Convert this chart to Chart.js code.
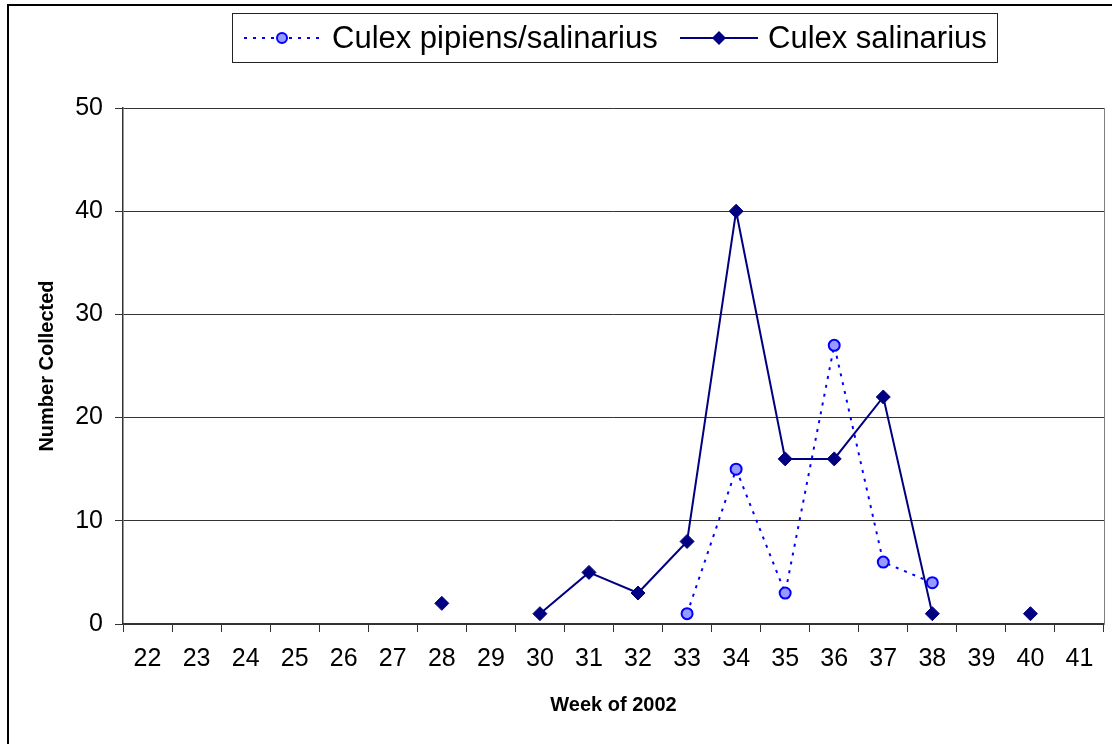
<!DOCTYPE html>
<html>
<head>
<meta charset="utf-8">
<script src="https://cdn.jsdelivr.net/npm/chart.js@4/dist/chart.umd.min.js"></script>
<style>
  body { margin: 0; background: #fff; }
  #wrap { width: 1112px; height: 744px; }
</style>
</head>
<body>
<div id="wrap"><canvas id="chart" width="1112" height="744"></canvas></div>
<script>
const weeks = ['22', '23', '24', '25', '26', '27', '28', '29', '30', '31',
               '32', '33', '34', '35', '36', '37', '38', '39', '40', '41'];

// Culex pipiens/salinarius (weeks 33-38 only)
const pipiensCounts = [null, null, null, null, null, null, null, null, null, null,
                       null, 1, 15, 3, 27, 6, 4, null, null, null];

// Culex salinarius (gaps at 29 and 39)
const salinariusCounts = [null, null, null, null, null, null, 2, null, 1, 5,
                          3, 8, 40, 16, 16, 22, 1, null, 1, null];

const yTicks = [0, 10, 20, 30, 40, 50];
const seriesNames = ['Culex pipiens/salinarius', 'Culex salinarius'];

const FONT = '"Liberation Sans", Arial, sans-serif';
const NAVY = '#000080';
const BLUE = '#0000FF';
const LIGHT = '#9999FF';

function drawDiamond(ctx, x, y, r) {
    ctx.beginPath();
    ctx.moveTo(x, y - r);
    ctx.lineTo(x + r, y);
    ctx.lineTo(x, y + r);
    ctx.lineTo(x - r, y);
    ctx.closePath();
    ctx.fillStyle = NAVY;
    ctx.fill();
}

function drawCircle(ctx, x, y, r) {
    ctx.beginPath();
    ctx.arc(x, y, r, 0, Math.PI * 2);
    ctx.fillStyle = LIGHT;
    ctx.fill();
    ctx.lineWidth = 2;
    ctx.strokeStyle = BLUE;
    ctx.setLineDash([]);
    ctx.stroke();
}

// frame, plot-area border and the boxed legend
const decorations = {
    id: 'decorations',
    beforeDatasetsDraw(chart) {
        const { ctx, chartArea } = chart;
        ctx.save();
        ctx.strokeStyle = '#808080';
        ctx.lineWidth = 1;
        ctx.beginPath();
        ctx.moveTo(Math.round(chartArea.right) + 0.5, chartArea.top);
        ctx.lineTo(Math.round(chartArea.right) + 0.5, chartArea.bottom);
        ctx.stroke();
        ctx.restore();
    },
    afterDraw(chart) {
        const ctx = chart.ctx;
        ctx.save();
        // outer frame
        ctx.strokeStyle = '#000';
        ctx.lineWidth = 2;
        ctx.strokeRect(8, 5, 1300, 1000);

        // legend box
        ctx.lineWidth = 1;
        ctx.strokeStyle = '#222';
        ctx.strokeRect(232.5, 13.5, 765, 49);

        const ly = 38;
        // dotted series sample
        ctx.strokeStyle = BLUE;
        ctx.lineWidth = 2;
        ctx.setLineDash([3, 6]);
        ctx.beginPath();
        ctx.moveTo(244, ly);
        ctx.lineTo(320, ly);
        ctx.stroke();
        drawCircle(ctx, 282, ly, 5);

        // solid series sample
        ctx.setLineDash([]);
        ctx.strokeStyle = NAVY;
        ctx.lineWidth = 2;
        ctx.beginPath();
        ctx.moveTo(680, ly);
        ctx.lineTo(758, ly);
        ctx.stroke();
        drawDiamond(ctx, 719, ly, 7);

        ctx.fillStyle = '#000';
        ctx.font = '31px ' + FONT;
        ctx.textBaseline = 'middle';
        ctx.textAlign = 'left';
        ctx.fillText(seriesNames[0], 332, ly + 1);
        ctx.fillText(seriesNames[1], 768, ly + 1);
        ctx.restore();
    }
};

new Chart(document.getElementById('chart'), {
    type: 'line',
    data: {
        labels: weeks,
        datasets: [
            {
                label: seriesNames[0],
                data: pipiensCounts,
                borderColor: BLUE,
                borderWidth: 2,
                borderDash: [3, 6],
                pointStyle: 'circle',
                pointRadius: 5.5,
                pointBackgroundColor: LIGHT,
                pointBorderColor: BLUE,
                pointBorderWidth: 2,
                spanGaps: false,
                tension: 0
            },
            {
                label: seriesNames[1],
                data: salinariusCounts,
                borderColor: NAVY,
                borderWidth: 2,
                pointStyle: 'rectRot',
                pointRadius: 7,
                pointBackgroundColor: NAVY,
                pointBorderColor: NAVY,
                pointBorderWidth: 1,
                spanGaps: false,
                tension: 0
            }
        ]
    },
    options: {
        responsive: false,
        animation: false,
        events: [],
        layout: { padding: { top: 108, right: 5, left: 0, bottom: 0 } },
        plugins: {
            legend: { display: false },
            tooltip: { enabled: false }
        },
        scales: {
            x: {
                offset: true,
                afterFit(scale) { scale.height = 120; },
                grid: {
                    offset: true,
                    drawOnChartArea: false,
                    drawTicks: true,
                    tickLength: 8,
                    color: '#333'
                },
                border: { color: '#333', width: 1.5 },
                ticks: {
                    color: '#000',
                    font: { family: FONT, size: 25 },
                    padding: 12,
                    maxRotation: 0,
                    autoSkip: false
                },
                title: {
                    display: true,
                    text: 'Week of 2002',
                    color: '#000',
                    font: { family: FONT, size: 20, weight: 'bold' },
                    padding: { top: 0, bottom: 27 }
                }
            },
            y: {
                min: 0,
                max: 50,
                afterFit(scale) { scale.width = 123; },
                afterBuildTicks(scale) { scale.ticks = yTicks.map(v => ({ value: v })); },
                grid: {
                    color: '#333',
                    lineWidth: 1,
                    drawTicks: true,
                    tickLength: 8
                },
                border: { color: '#333', width: 1.5 },
                ticks: {
                    color: '#000',
                    font: { family: FONT, size: 25 },
                    padding: 12
                },
                title: {
                    display: true,
                    text: 'Number Collected',
                    color: '#000',
                    font: { family: FONT, size: 20, weight: 'bold' },
                    padding: { top: 35, bottom: 0 }
                }
            }
        }
    },
    plugins: [decorations]
});
</script>
</body>
</html>
